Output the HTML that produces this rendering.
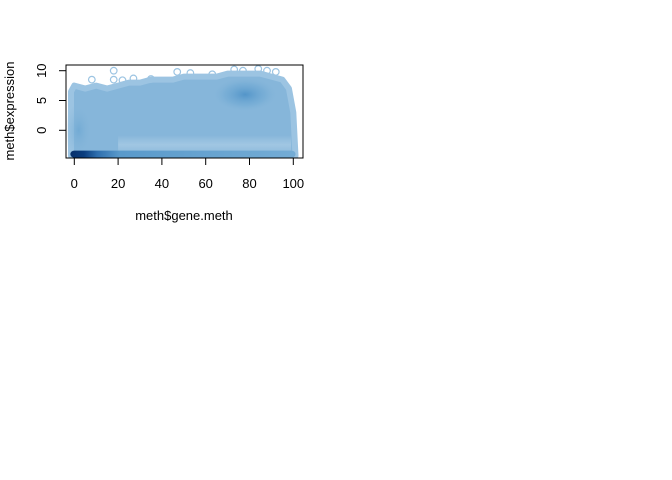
<!DOCTYPE html>
<html><head><meta charset="utf-8"><style>
body{margin:0;background:#fff;}
svg{display:block;font-family:"Liberation Sans",Arial,sans-serif;}
</style></head><body>
<svg id="chart" width="672" height="480">
<defs>
<radialGradient id="blob" cx="0.5" cy="0.5" r="0.5">
<stop offset="0" stop-color="#4a8fc6" stop-opacity="0.85"/>
<stop offset="0.6" stop-color="#6aa6d2" stop-opacity="0.45"/>
<stop offset="1" stop-color="#8ab8da" stop-opacity="0"/>
</radialGradient>
<radialGradient id="blob2" cx="0.5" cy="0.5" r="0.5">
<stop offset="0" stop-color="#6aa6d2" stop-opacity="0.7"/>
<stop offset="1" stop-color="#8ab8da" stop-opacity="0"/>
</radialGradient>
<linearGradient id="strip" x1="0" x2="1" y1="0" y2="0">
<stop offset="0" stop-color="#08306b"/>
<stop offset="0.06" stop-color="#0b3d7e"/>
<stop offset="0.12" stop-color="#2f6fae"/>
<stop offset="0.22" stop-color="#5a9acb"/>
<stop offset="1" stop-color="#74acd5"/>
</linearGradient>
<linearGradient id="speck" x1="0" x2="0" y1="0" y2="1">
<stop offset="0" stop-color="#ffffff" stop-opacity="0"/>
<stop offset="0.6" stop-color="#eef5fb" stop-opacity="0.25"/>
<stop offset="1" stop-color="#ffffff" stop-opacity="0.1"/>
</linearGradient>
<clipPath id="clip"><rect x="66" y="65" width="237" height="93"/></clipPath>
</defs>
<g id="plot" clip-path="url(#clip)"></g>
<g id="axes"></g>
<rect x="66" y="65" width="237" height="93" fill="none" stroke="#000" stroke-width="1"/>
<text x="184" y="220" font-size="13" text-anchor="middle">meth$gene.meth</text>
<text transform="translate(14,111) rotate(-90)" font-size="13" text-anchor="middle">meth$expression</text>
</svg>
<script>
const envX = [0,5,10,15,20,25,30,35,40,45,50,55,60,65,70,75,80,85,90,95,98,100];
const envTop = [7.5,7,7.5,7,7.5,8,8,8.5,8.5,8.5,9,9,9,9,9.5,9.5,9.5,9.5,9,8.5,7,3];
const outX = [18,18,8,27,47,53,73,77,84,92,22,35,63,88];
const outY = [10,8.5,8.5,8.7,9.8,9.6,10.2,10,10.3,9.8,8.4,8.6,9.4,10];
const xTicks = [0,20,40,60,80,100];
const yTicks = [0,5,10];
const NS='http://www.w3.org/2000/svg';
const sx = v => 74.3 + v*2.19;
const sy = v => 130.3 - v*5.96;
const plot = document.getElementById('plot'), axes = document.getElementById('axes');
function mk(tag, attrs, parent){const e=document.createElementNS(NS,tag);for(const k in attrs)e.setAttribute(k,attrs[k]);parent.appendChild(e);return e;}
let d = 'M'+sx(-1.5)+','+sy(-4.3)+' L'+sx(-1.5)+','+sy(envTop[0]-1);
envX.forEach((x,i)=>{d+=' L'+sx(x)+','+sy(envTop[i]);});
d += ' L'+sx(101)+','+sy(-4.3)+' Z';
const env = mk('path',{d:d,fill:'#86b6da',stroke:'#9cc4e2','stroke-width':6,'stroke-linejoin':'round'},plot);


const sp = mk('rect',{x:sx(20),y:sy(-0.8),width:sx(99)-sx(20),height:sy(-3.5)-sy(-0.8),fill:'url(#speck)'},plot);


const b1 = mk('ellipse',{cx:sx(78),cy:sy(6),rx:34,ry:18,fill:'url(#blob)'},plot);


const b2 = mk('ellipse',{cx:sx(2),cy:sy(0),rx:14,ry:28,fill:'url(#blob2)'},plot);


const st = mk('rect',{x:sx(-1.8),y:sy(-3.4),width:sx(101)-sx(-1.8),height:sy(-4.6)-sy(-3.4),rx:4,fill:'url(#strip)'},plot);


outX.forEach((x,i)=>{
  const c = mk('circle',{cx:sx(x),cy:sy(outY[i]),r:3.3,fill:'none',stroke:'#9cc4e2','stroke-width':1.2},plot);
  
  
});
xTicks.forEach(t=>{
  const l = mk('line',{x1:sx(t),x2:sx(t),y1:158,y2:165,stroke:'#000'},axes);
  
  
  const tx = mk('text',{x:sx(t),y:188,'font-size':13,'text-anchor':'middle'},axes);
  tx.textContent = t;
  
  
});
yTicks.forEach(t=>{
  const l = mk('line',{x1:59,x2:66,y1:sy(t),y2:sy(t),stroke:'#000'},axes);
  
  
  const tx = mk('text',{transform:'translate(46,'+sy(t)+') rotate(-90)','font-size':13,'text-anchor':'middle'},axes);
  tx.textContent = t;
  
  
});
</script>
</body></html>
